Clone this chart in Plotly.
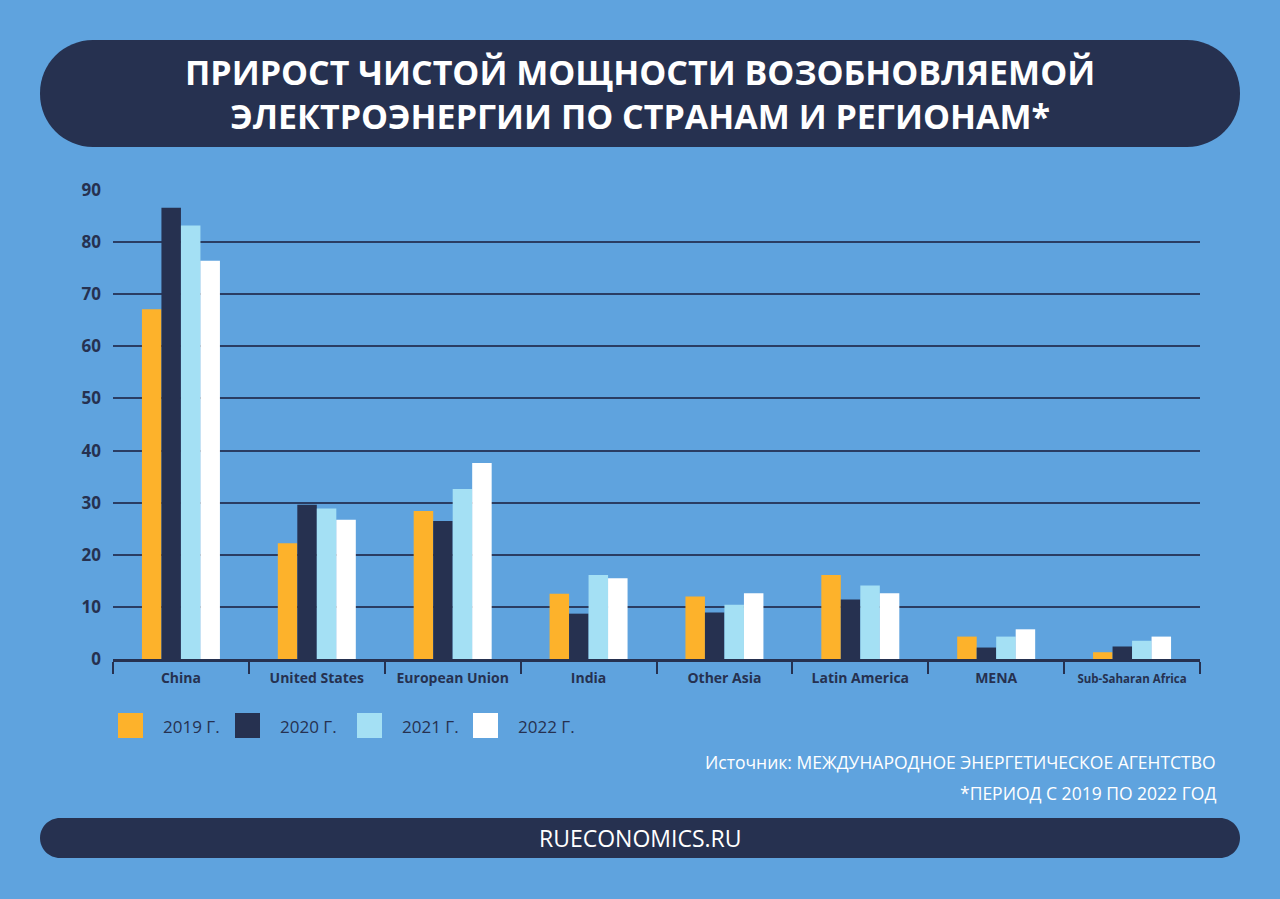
import plotly.graph_objects as go

# ---- data ----
regions = ["China", "United States", "European Union", "India", "Other Asia",
           "Latin America", "MENA", "Sub-Saharan Africa"]
region_labels = ["China", "United States", "European Union", "India", "Other Asia",
                 "Latin America", "MENA", "<span style='font-size:11.5px'>Sub-Saharan Africa</span>"]
years = ["2019 Г.", "2020 Г.", "2021 Г.", "2022 Г."]
v2019 = [67.1, 22.2, 28.4, 12.5, 12.0, 16.1, 4.3, 1.3]
v2020 = [86.6, 29.6, 26.5, 8.7, 8.9, 11.4, 2.2, 2.4]
v2021 = [83.2, 28.9, 32.6, 16.1, 10.4, 14.1, 4.3, 3.5]
v2022 = [76.4, 26.7, 37.6, 15.5, 12.6, 12.6, 5.7, 4.3]
series = [v2019, v2020, v2021, v2022]
colors = ["#fdb22b", "#263150", "#a4e0f4", "#ffffff"]
y_ticks = [0, 10, 20, 30, 40, 50, 60, 70, 80, 90]

title_text = "ПРИРОСТ ЧИСТОЙ МОЩНОСТИ ВОЗОБНОВЛЯЕМОЙ<br>ЭЛЕКТРОЭНЕРГИИ ПО СТРАНАМ И РЕГИОНАМ*"
source_text = "Источник: МЕЖДУНАРОДНОЕ ЭНЕРГЕТИЧЕСКОЕ АГЕНТСТВО"
note_text = "*ПЕРИОД С 2019 ПО 2022 ГОД"
footer_text = "RUECONOMICS.RU"

# ---- layout geometry (pixels) ----
W_FIG, H_FIG = 1280, 899
L, R, T, B = 113, 1200, 190, 659
PW, PH = R - L, B - T
BG = "#5fa3de"
NAVY = "#263150"
FONT = "Open Sans"


def px(x):
    return (x - L) / PW


def py(y):
    return (B - y) / PH


def rounded_rect(x0, y0, x1, y1, r):
    k = 0.5523
    pts = []
    pts.append(f"M{px(x0 + r)},{py(y0)}")
    pts.append(f"L{px(x1 - r)},{py(y0)}")
    pts.append(f"C{px(x1 - r + k * r)},{py(y0)} {px(x1)},{py(y0 + r - k * r)} {px(x1)},{py(y0 + r)}")
    pts.append(f"L{px(x1)},{py(y1 - r)}")
    pts.append(f"C{px(x1)},{py(y1 - r + k * r)} {px(x1 - r + k * r)},{py(y1)} {px(x1 - r)},{py(y1)}")
    pts.append(f"L{px(x0 + r)},{py(y1)}")
    pts.append(f"C{px(x0 + r - k * r)},{py(y1)} {px(x0)},{py(y1 - r + k * r)} {px(x0)},{py(y1 - r)}")
    pts.append(f"L{px(x0)},{py(y0 + r)}")
    pts.append(f"C{px(x0)},{py(y0 + r - k * r)} {px(x0 + r - k * r)},{py(y0)} {px(x0 + r)},{py(y0)}")
    pts.append("Z")
    return " ".join(pts)


fig = go.Figure()
for name, vals, col in zip(years, series, colors):
    fig.add_trace(go.Bar(x=regions, y=vals, name=name, marker=dict(color=col, line=dict(width=0)),
                         showlegend=False, hoverinfo="skip"))

shapes = [
    dict(type="path", xref="paper", yref="paper", path=rounded_rect(40, 40, 1240, 147, 53),
         fillcolor=NAVY, line=dict(width=0), layer="below"),
    dict(type="path", xref="paper", yref="paper", path=rounded_rect(40, 818, 1240, 858, 20),
         fillcolor=NAVY, line=dict(width=0), layer="below"),
]
annotations = [
    dict(text=f"<b>{title_text}</b>", x=px(640), y=py(94), xref="paper", yref="paper",
         showarrow=False, font=dict(family=FONT, size=34, color="#ffffff"),
         xanchor="center", yanchor="middle", align="center"),
    dict(text=footer_text, x=px(640), y=py(838), xref="paper", yref="paper",
         showarrow=False, font=dict(family=FONT, size=23, color="#ffffff", weight=500),
         xanchor="center", yanchor="middle"),
    dict(text=source_text, x=px(1218), y=py(762), xref="paper", yref="paper",
         showarrow=False, font=dict(family=FONT, size=17.5, color="#ffffff"),
         xanchor="right", yanchor="middle"),
    dict(text=note_text, x=px(1218), y=py(793), xref="paper", yref="paper",
         showarrow=False, font=dict(family=FONT, size=17.5, color="#ffffff"),
         xanchor="right", yanchor="middle"),
]

# custom legend
leg_sq_x = [118, 235, 357, 473]
for i, (name, col) in enumerate(zip(years, colors)):
    x0 = leg_sq_x[i]
    shapes.append(dict(type="rect", xref="paper", yref="paper", x0=px(x0), x1=px(x0 + 25),
                       y0=py(738), y1=py(713), fillcolor=col, line=dict(width=0)))
    annotations.append(dict(text=name, x=px(x0 + 43), y=py(726), xref="paper", yref="paper",
                            showarrow=False, xanchor="left", yanchor="middle",
                            font=dict(family=FONT, size=17, color=NAVY)))

fig.update_layout(
    width=W_FIG, height=H_FIG,
    margin=dict(l=L, r=W_FIG - R, t=T, b=H_FIG - B, pad=0),
    paper_bgcolor=BG, plot_bgcolor=BG,
    barmode="group", bargap=0.426, bargroupgap=0,
    shapes=shapes, annotations=annotations,
    showlegend=False,
    xaxis=dict(
        type="category", tickmode="array", tickvals=regions, ticktext=region_labels,
        tickson="boundaries", ticks="outside", ticklen=12, tickwidth=2, tickcolor=NAVY,
        showline=True, linecolor=NAVY, linewidth=3, showgrid=False,
        tickfont=dict(family=FONT, size=14, color=NAVY, weight="bold"),
        ticklabelstandoff=4,
        fixedrange=True,
    ),
    yaxis=dict(
        range=[0, 90], tickmode="array", tickvals=y_ticks,
        showgrid=True, gridcolor="#2a3d63", gridwidth=2,
        zeroline=False, showline=False, ticks="",
        tickfont=dict(family=FONT, size=17, color=NAVY, weight="bold"),
        ticklabelstandoff=11,
        fixedrange=True,
    ),
)

fig.write_html("out.html", config={"displayModeBar": False},
               post_script="document.body.style.margin='0';document.body.style.overflow='hidden';")
